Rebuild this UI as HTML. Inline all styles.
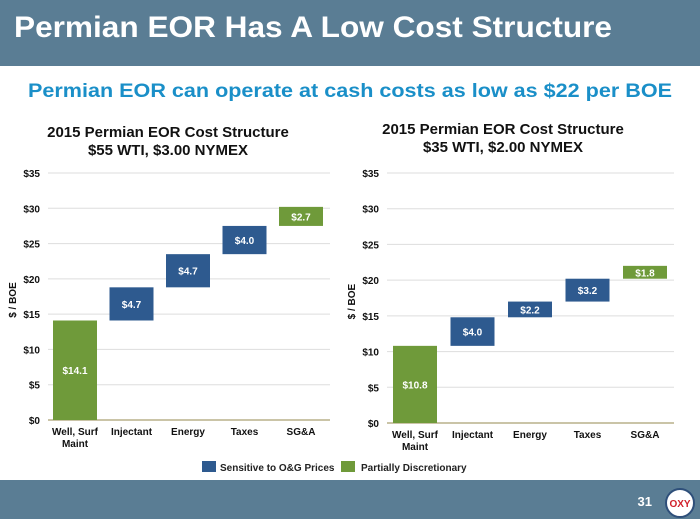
<!DOCTYPE html>
<html><head><meta charset="utf-8"><style>
body{margin:0;width:700px;height:519px;overflow:hidden;background:#fff;font-family:"Liberation Sans",Arial,sans-serif;}
</style></head><body>
<svg width="700" height="519" xmlns="http://www.w3.org/2000/svg" font-family="Liberation Sans, Arial, sans-serif">
<rect x="0" y="0" width="700" height="66" fill="#5a7d94"/>
<text x="14" y="37" fill="#fff" font-size="30" font-weight="bold" textLength="598" lengthAdjust="spacingAndGlyphs">Permian EOR Has A Low Cost Structure</text>
<text x="28" y="97" fill="#1a8fc8" font-size="19" font-weight="bold" textLength="644" lengthAdjust="spacingAndGlyphs">Permian EOR can operate at cash costs as low as $22 per BOE</text>
<g id="c1"></g><g id="c2"></g>
<g>
<rect x="202" y="461" width="14" height="11" fill="#2e5a8f"/>
<text x="220" y="471" font-size="10" font-weight="bold" fill="#222">Sensitive to O&amp;G Prices</text>
<rect x="341" y="461" width="14" height="11" fill="#6f9a3a"/>
<text x="361" y="471" font-size="10" font-weight="bold" fill="#222">Partially Discretionary</text>
</g>
<rect x="0" y="480" width="700" height="39" fill="#5a7d94"/>
<text x="652" y="506" fill="#fff" font-size="13" font-weight="bold" text-anchor="end">31</text>
<g><circle cx="680" cy="503" r="14" fill="#fff" stroke="#2e4f7a" stroke-width="2"/><text x="680" y="507" font-size="10" font-weight="bold" fill="#d0202a" text-anchor="middle">OXY</text></g>
</svg>
<script>
const categories=["Well, Surf|Maint","Injectant","Energy","Taxes","SG&A"];
const values1=[14.1,4.7,4.7,4.0,2.7];
const values2=[10.8,4.0,2.2,3.2,1.8];
const kinds=["g","b","b","b","g"];
const ticks=[0,5,10,15,20,25,30,35];
const ns="http://www.w3.org/2000/svg";
function mk(p,t,a){const e=document.createElementNS(ns,t);for(const k in a)e.setAttribute(k,a[k]);p.appendChild(e);return e;}
function chart(id,vals,o){
  const g=document.getElementById(id);
  const y=v=>o.y0-(o.y0-o.y35)*v/35;
  const t1=mk(g,'text',{x:o.cx,y:o.ty,'text-anchor':'middle','font-size':15,'font-weight':'bold',fill:'#111'});t1.textContent=o.t1;
  
  const t2=mk(g,'text',{x:o.cx,y:o.ty+18,'text-anchor':'middle','font-size':15,'font-weight':'bold',fill:'#111'});t2.textContent=o.t2;
  ticks.forEach(v=>{
    const l=mk(g,'line',{x1:o.x0,x2:o.x1,y1:y(v),y2:y(v),stroke:v?'#ddd':'#b8b08a','stroke-width':v?1:1.5});
    
    const t=mk(g,'text',{x:o.x0-8,y:y(v)+4,'text-anchor':'end','font-size':10,'font-weight':'bold',fill:'#111'});t.textContent='$'+v;
    
  });
  const ya=mk(g,'text',{transform:`translate(${o.x0-32},${y(17)}) rotate(-90)`,'text-anchor':'middle','font-size':10,'font-weight':'bold',fill:'#111'});ya.textContent='$ / BOE';
  
  let base=0;
  vals.forEach((v,i)=>{
    const cx=o.c0+i*o.step;
    const r=mk(g,'rect',{x:cx-22,y:y(base+v),width:44,height:y(base)-y(base+v),fill:kinds[i]=='g'?'#6f9a3a':'#2e5a8f'});
    
    const lb=mk(g,'text',{x:cx,y:(y(base)+y(base+v))/2+4,'text-anchor':'middle','font-size':10,'font-weight':'bold',fill:'#fff'});lb.textContent='$'+v.toFixed(1);
    
    categories[i].split('|').forEach((s,j)=>{
      const c=mk(g,'text',{x:cx,y:o.y0+15+j*12,'text-anchor':'middle','font-size':10,'font-weight':'bold',fill:'#111'});c.textContent=s;
      
    });
    base+=v;
  });
}
chart('c1',values1,{cx:168,ty:137,t1:'2015 Permian EOR Cost Structure',t2:'$55 WTI, $3.00 NYMEX',x0:48,x1:330,y0:420,y35:173,c0:75,step:56.5});
chart('c2',values2,{cx:503,ty:134,t1:'2015 Permian EOR Cost Structure',t2:'$35 WTI, $2.00 NYMEX',x0:387,x1:674,y0:423,y35:173,c0:415,step:57.5});
</script>
</body></html>
